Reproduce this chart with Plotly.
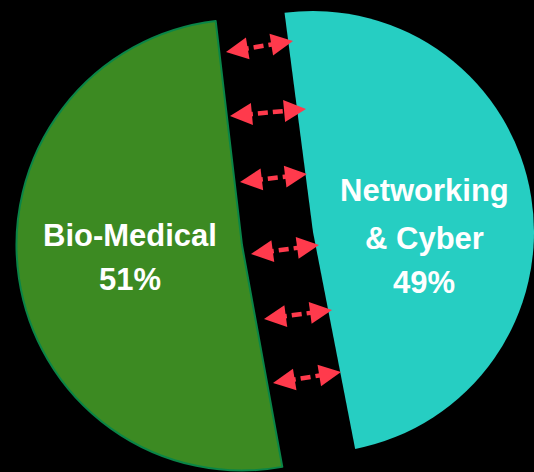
import math
import plotly.graph_objects as go

# Research split by area
categories = ["Bio-Medical", "Networking<br>& Cyber"]
shares = [51, 49]

W, H = 534, 472

GREEN = "#3C8A22"
GREEN_EDGE = "#0A8548"
CYAN = "#26CEC2"
RED = "#FF3A4C"
CLEAR = "rgba(0,0,0,0)"


def px_domain(cx, cy, r):
    """Pie domain (paper units) for a circle centred at pixel (cx, cy)."""
    x0 = max(0.0, (cx - r) / W)
    x1 = min(1.0, (cx + r) / W)
    y0 = max(0.0, 1 - (cy + r) / H)
    y1 = min(1.0, 1 - (cy - r) / H)
    return dict(x=[x0, x1], y=[y0, y1])


fig = go.Figure()

# Each half is its own pie so the two halves can sit apart from each other;
# the other slice of each trace is left transparent.
halves = [
    dict(cx=242, cy=245, r=225.5, rot=169.7,
         fill=[GREEN, CLEAR], line=[GREEN_EDGE, CLEAR], lw=[2, 0]),
    dict(cx=313, cy=232, r=221, rot=169.0,
         fill=[CLEAR, CYAN], line=[CLEAR, CLEAR], lw=[0, 0]),
]
for h in halves:
    fig.add_trace(go.Pie(
        labels=categories,
        values=shares,
        sort=False,
        direction="clockwise",
        rotation=h["rot"],
        domain=px_domain(h["cx"], h["cy"], h["r"]),
        marker=dict(colors=h["fill"], line=dict(color=h["line"], width=h["lw"])),
        textinfo="none",
        hoverinfo="skip",
        showlegend=False,
    ))

# Slice labels, one annotation per line
label_font = dict(family="Liberation Sans, Arial, sans-serif", size=31, color="white")
label_spots = [
    dict(x=130, ys=[235, 279]),
    dict(x=424, ys=[191, 238, 282]),
]
annotations = []
for cat, val, spot in zip(categories, shares, label_spots):
    lines = cat.split("<br>") + [f"{val}%"]
    for line, y in zip(lines, spot["ys"]):
        annotations.append(dict(
            x=spot["x"] / W, y=1 - y / H, xref="paper", yref="paper",
            text=f"<b>{line}</b>", showarrow=False, font=label_font,
            xanchor="center", yanchor="middle",
        ))

# Double-headed dashed arrows across the gap (left tip, right tip in pixels)
arrow_tips = [
    ((226, 52), (293, 41)),
    ((230, 116), (306, 109)),
    ((240, 182), (307, 174)),
    ((251, 254), (319, 245)),
    ((264, 319), (332, 310)),
    ((273, 383), (341, 372)),
]
shapes = []
head_len = 16
for (lx, ly), (rx, ry) in arrow_tips:
    d = math.hypot(rx - lx, ry - ly)
    ux, uy = (rx - lx) / d, (ry - ly) / d
    sx0, sy0 = lx + (head_len - 3) * ux, ly + (head_len - 3) * uy
    sx1, sy1 = rx - (head_len - 3) * ux, ry - (head_len - 3) * uy
    shapes.append(dict(
        type="line", xref="paper", yref="paper",
        x0=sx0 / W, y0=1 - sy0 / H, x1=sx1 / W, y1=1 - sy1 / H,
        line=dict(color=RED, width=4.5, dash="10px,5px"),
    ))
    for (tx, ty), sgn in (((lx, ly), 1), ((rx, ry), -1)):
        annotations.append(dict(
            x=tx / W, y=1 - ty / H, xref="paper", yref="paper",
            ax=sgn * head_len * ux, ay=sgn * head_len * uy,
            text="", showarrow=True, arrowhead=2, arrowsize=1.1,
            arrowwidth=4, arrowcolor=RED, standoff=0,
        ))

fig.update_layout(
    width=W, height=H,
    margin=dict(l=0, r=0, t=0, b=0),
    paper_bgcolor="black",
    plot_bgcolor="black",
    shapes=shapes,
    annotations=annotations,
)

fig.write_html("out.html")
